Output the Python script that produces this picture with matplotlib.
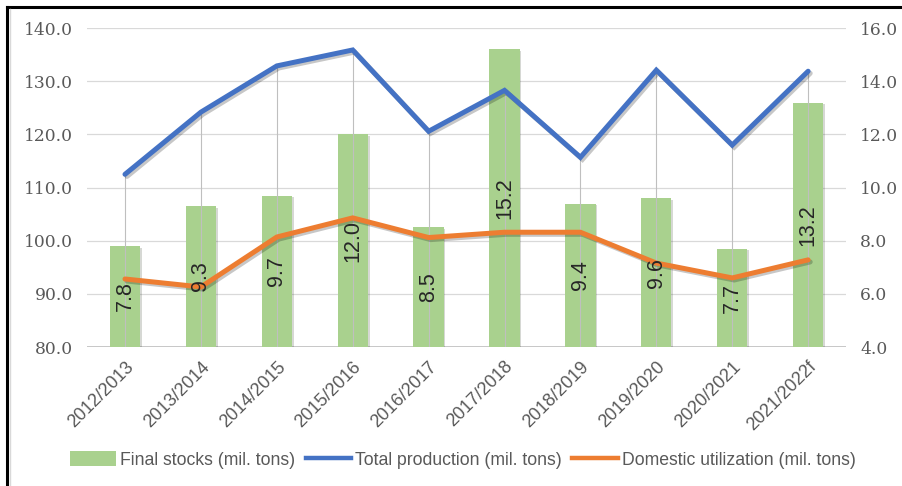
import matplotlib
matplotlib.use("Agg")
import matplotlib.pyplot as plt
import matplotlib.patheffects as pe
from matplotlib.lines import Line2D
from matplotlib.patches import Patch
import numpy as np

categories = ["2012/2013", "2013/2014", "2014/2015", "2015/2016", "2016/2017",
              "2017/2018", "2018/2019", "2019/2020", "2020/2021", "2021/2022f"]
final_stocks = [7.8, 9.3, 9.7, 12.0, 8.5, 15.2, 9.4, 9.6, 7.7, 13.2]
total_production = [112.5, 124.2, 132.9, 135.9, 120.6, 128.3, 115.7, 132.1, 118.0, 131.9]
domestic_utilization = [92.8, 91.3, 100.7, 104.3, 100.6, 101.6, 101.6, 95.8, 93.0, 96.4]

left_ticks = [80, 90, 100, 110, 120, 130, 140]
right_ticks = [4, 6, 8, 10, 12, 14, 16]

GREEN = "#A9D18E"
BLUE = "#4472C4"
ORANGE = "#ED7D31"
GRAY_TXT = "#595959"

fig = plt.figure(figsize=(9.02, 4.86), dpi=100)
ax2 = fig.add_axes([0.0965, 0.286, 0.8415, 0.656])
ax = ax2.twinx()
ax.yaxis.tick_left()
ax.yaxis.set_label_position("left")
ax2.yaxis.tick_right()
ax2.yaxis.set_label_position("right")
ax.set_zorder(ax2.get_zorder() + 1)
ax.patch.set_visible(False)

x = np.arange(len(categories))

bars = ax2.bar(x, [v - 4 for v in final_stocks], bottom=4, width=0.4, color=GREEN, zorder=3,
               path_effects=[pe.SimplePatchShadow(offset=(1.2, -1.2), alpha=0.2), pe.Normal()])
ax2.set_ylim(4, 16)
ax2.set_yticks(right_ticks)
ax2.set_yticklabels([f"{t:.1f}" for t in right_ticks])
ax2.grid(axis="y", color="#D9D9D9", lw=0.9, zorder=0)
ax2.set_axisbelow(True)

ax.vlines(x, 80, total_production, color="#BFBFBF", lw=0.8, zorder=2)

shadow = [pe.SimpleLineShadow(offset=(1.5, -1.5), alpha=0.22, shadow_color="black"), pe.Normal()]
ax.plot(x, total_production, color=BLUE, lw=3.6, solid_capstyle="round", solid_joinstyle="miter",
        zorder=4, path_effects=shadow)
ax.plot(x, domestic_utilization, color=ORANGE, lw=3.6, solid_capstyle="round", solid_joinstyle="miter",
        zorder=4, path_effects=shadow)

ax.set_ylim(80, 140)
ax.set_yticks(left_ticks)
ax.set_yticklabels([f"{t:.1f}" for t in left_ticks])
ax.set_xlim(-0.5, len(categories) - 0.5)

for xi, v in zip(x, final_stocks):
    ax.text(xi, (4 + v) / 2, f"{v:.1f}", transform=ax2.transData, rotation=90,
            ha="center", va="center", fontsize=15.5, color="#262626",
            family="Liberation Sans", zorder=6)

for a in (ax, ax2):
    for s in a.spines.values():
        s.set_visible(False)
    a.tick_params(axis="y", length=0, pad=10, labelsize=12.3, labelcolor=GRAY_TXT)
    for lab in a.get_yticklabels():
        lab.set_family("DejaVu Serif")

ax2.axhline(4, color="#BFBFBF", lw=1.2, zorder=1)

ax2.set_xticks(x)
ax2.set_xticklabels(categories, rotation=45, ha="right", rotation_mode="anchor",
                    fontsize=13, color=GRAY_TXT, family="Liberation Sans")
ax2.tick_params(axis="x", length=0, pad=8)
ax.tick_params(axis="x", length=0, labelbottom=False)

handles = [Patch(facecolor=GREEN, edgecolor="none"),
           Line2D([], [], color=BLUE, lw=3.2),
           Line2D([], [], color=ORANGE, lw=3.2)]
labels = ["Final stocks (mil. tons)", "Total production (mil. tons)", "Domestic utilization (mil. tons)"]
fig.legend(handles, labels, loc="center", bbox_to_anchor=(463 / 902, 1 - 460 / 486), ncol=3,
           frameon=False, prop={"family": "Liberation Sans", "size": 12.7}, labelcolor=GRAY_TXT,
           handlelength=2.6, handleheight=0.9, handletextpad=0.2, columnspacing=0.6)

fig.add_artist(Line2D([7 / 902, 1], [1 - 7 / 486, 1 - 7 / 486], color="black", lw=2.2,
                      transform=fig.transFigure))
fig.add_artist(Line2D([7 / 902, 7 / 902], [0, 1 - 7 / 486], color="black", lw=2.2,
                      transform=fig.transFigure))
fig.add_artist(Line2D([10 / 902, 10 / 902], [0, 1 - 9 / 486], color="#D9D9D9", lw=1.0,
                      transform=fig.transFigure))

fig.savefig("out.png", dpi=100)
